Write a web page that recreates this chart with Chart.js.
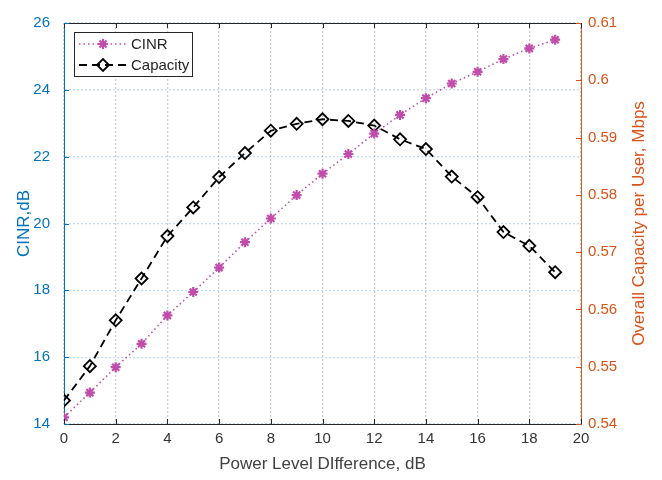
<!DOCTYPE html>
<html>
<head>
<meta charset="utf-8">
<script src="https://cdn.jsdelivr.net/npm/chart.js@4"></script>
<style>
  body { margin: 0; background: #fff; }
  canvas { display: block; }
</style>
</head>
<body>
<canvas id="powerChart" width="662" height="480"></canvas>
<script>
// --- 1. Data ---
const powerDiff = [0, 1, 2, 3, 4, 5, 6, 7, 8, 9, 10, 11, 12, 13, 14, 15, 16, 17, 18, 19];
const cinrValues = [14.2, 14.94, 15.7, 16.4, 17.25, 17.95, 18.68, 19.44, 20.15, 20.85,
                    21.49, 22.08, 22.69, 23.25, 23.75, 24.19, 24.54, 24.92, 25.24, 25.5];
const capacityValues = [0.5441, 0.5501, 0.5581, 0.5654, 0.5728, 0.5778, 0.5831, 0.5873, 0.5912, 0.5924,
                        0.5932, 0.5929, 0.5921, 0.5897, 0.5880, 0.5832, 0.5796, 0.5735, 0.5711, 0.5665];
const xTickRange = [0, 20];
const cinrRange = [14, 26];
const capacityRange = [0.54, 0.61];

const BLUE = '#0072BD';
const ORANGE = '#D95319';
const MAGENTA = '#C04DAA';
const FONT = "'Liberation Sans', Arial, sans-serif";

// --- 2. MATLAB-ish extras: inward ticks, box, right title, legend ---
const matlabBits = {
    id: 'matlabBits',
    afterDraw(chart) {
        const { ctx, chartArea: a, scales } = chart;
        ctx.save();
        ctx.lineWidth = 1;

        // top box line
        ctx.strokeStyle = '#262626';
        ctx.beginPath();
        ctx.moveTo(a.left, a.top + 0.5);
        ctx.lineTo(a.right, a.top + 0.5);
        ctx.stroke();

        // x ticks (bottom and top, pointing inward)
        scales.x.ticks.forEach(t => {
            const px = Math.round(scales.x.getPixelForValue(t.value)) + 0.5;
            ctx.beginPath();
            ctx.moveTo(px, a.bottom); ctx.lineTo(px, a.bottom - 5);
            ctx.moveTo(px, a.top); ctx.lineTo(px, a.top + 5);
            ctx.stroke();
        });

        // left ticks
        ctx.strokeStyle = BLUE;
        scales.y.ticks.forEach(t => {
            const py = Math.round(scales.y.getPixelForValue(t.value)) + 0.5;
            ctx.beginPath();
            ctx.moveTo(a.left, py); ctx.lineTo(a.left + 5, py);
            ctx.stroke();
        });

        // right ticks
        ctx.strokeStyle = ORANGE;
        scales.y1.ticks.forEach(t => {
            const py = Math.round(scales.y1.getPixelForValue(t.value)) + 0.5;
            ctx.beginPath();
            ctx.moveTo(a.right, py); ctx.lineTo(a.right - 5, py);
            ctx.stroke();
        });

        // right axis title, reading bottom to top
        ctx.fillStyle = ORANGE;
        ctx.font = '17px ' + FONT;
        ctx.textAlign = 'center';
        ctx.textBaseline = 'middle';
        ctx.translate(639, (a.top + a.bottom) / 2);
        ctx.rotate(-Math.PI / 2);
        ctx.fillText('Overall Capacity per User, Mbps', 0, 0);
        ctx.restore();

        // legend box
        ctx.save();
        const bx = 74, by = 32, bw = 118, bh = 44;
        ctx.fillStyle = '#fff';
        ctx.fillRect(bx, by, bw, bh);
        ctx.strokeStyle = '#262626';
        ctx.lineWidth = 1;
        ctx.strokeRect(bx + 0.5, by + 0.5, bw, bh);

        const rows = [44, 65];
        chart.data.datasets.forEach((ds, i) => {
            const y = rows[i];
            ctx.strokeStyle = ds.borderColor;
            ctx.lineWidth = ds.borderWidth;
            ctx.setLineDash(ds.borderDash);
            ctx.beginPath();
            ctx.moveTo(79, y); ctx.lineTo(126, y);
            ctx.stroke();
            ctx.setLineDash([]);
            // marker, styled like the dataset's points
            ctx.fillStyle = ds.pointBackgroundColor;
            ctx.strokeStyle = ds.pointBorderColor;
            ctx.lineWidth = ds.pointBorderWidth;
            Chart.helpers.drawPoint(ctx, {
                pointStyle: ds.pointStyle,
                radius: ds.pointRadius,
                rotation: 0,
                borderWidth: ds.pointBorderWidth
            }, 103, y);
            ctx.fillStyle = '#262626';
            ctx.font = '15px ' + FONT;
            ctx.textAlign = 'left';
            ctx.textBaseline = 'middle';
            ctx.fillText(ds.label, 131, y + 1);
        });
        ctx.restore();
    }
};

// --- 3. Chart ---
const ctx = document.getElementById('powerChart').getContext('2d');
const powerChart = new Chart(ctx, {
    type: 'line',
    data: {
        datasets: [
            {
                label: 'CINR',
                data: powerDiff.map((x, i) => ({ x: x, y: cinrValues[i] })),
                yAxisID: 'y',
                borderColor: MAGENTA,
                borderWidth: 1.6,
                borderDash: [1.5, 3],
                pointStyle: 'star',
                pointRadius: 5,
                pointBorderWidth: 2.2,
                pointBorderColor: MAGENTA,
                pointBackgroundColor: MAGENTA,
                fill: false,
                tension: 0
            },
            {
                label: 'Capacity',
                data: powerDiff.map((x, i) => ({ x: x, y: capacityValues[i] })),
                yAxisID: 'y1',
                borderColor: '#000000',
                borderWidth: 1.8,
                borderDash: [8, 5],
                pointStyle: 'rectRot',
                pointRadius: 6,
                pointBorderWidth: 1.8,
                pointBorderColor: '#000000',
                pointBackgroundColor: 'rgba(0,0,0,0)',
                fill: false,
                tension: 0
            }
        ]
    },
    options: {
        responsive: false,
        animation: false,
        layout: { padding: { top: 14, left: 0, right: 0, bottom: 0 } },
        plugins: {
            legend: { display: false },
            tooltip: { enabled: false }
        },
        scales: {
            x: {
                type: 'linear',
                min: xTickRange[0], max: xTickRange[1],
                ticks: { stepSize: 2, color: '#333', font: { family: FONT, size: 15 }, padding: 6, maxRotation: 0 },
                grid: { color: 'rgba(0,0,0,0.2)', lineWidth: 1.3, drawTicks: false },
                border: { display: true, color: '#262626', width: 1, dash: [2, 2] },
                title: {
                    display: true, text: 'Power Level DIfference, dB', color: '#404040',
                    font: { family: FONT, size: 17 }, padding: { top: 0, bottom: 5 }
                },
                afterFit: s => { s.height = 56; }
            },
            y: {
                position: 'left',
                min: cinrRange[0], max: cinrRange[1],
                ticks: { stepSize: 2, color: BLUE, font: { family: FONT, size: 15 }, padding: 14 },
                grid: { color: 'rgba(0,114,189,0.24)', lineWidth: 1.3, drawTicks: false },
                border: { display: true, color: BLUE, width: 1, dash: [2, 2] },
                title: {
                    display: true, text: 'CINR,dB', color: BLUE,
                    font: { family: FONT, size: 17 }, padding: { top: 14, bottom: 0 }
                },
                afterFit: s => { s.width = 64; }
            },
            y1: {
                position: 'right',
                min: capacityRange[0], max: capacityRange[1],
                ticks: {
                    stepSize: 0.01, color: ORANGE, font: { family: FONT, size: 15 }, padding: 7,
                    callback: v => String(Number(v.toFixed(2)))
                },
                grid: { drawOnChartArea: false, drawTicks: false },
                border: { display: true, color: ORANGE, width: 1 },
                afterFit: s => { s.width = 81; }
            }
        }
    },
    plugins: [matlabBits]
});
</script>
</body>
</html>
